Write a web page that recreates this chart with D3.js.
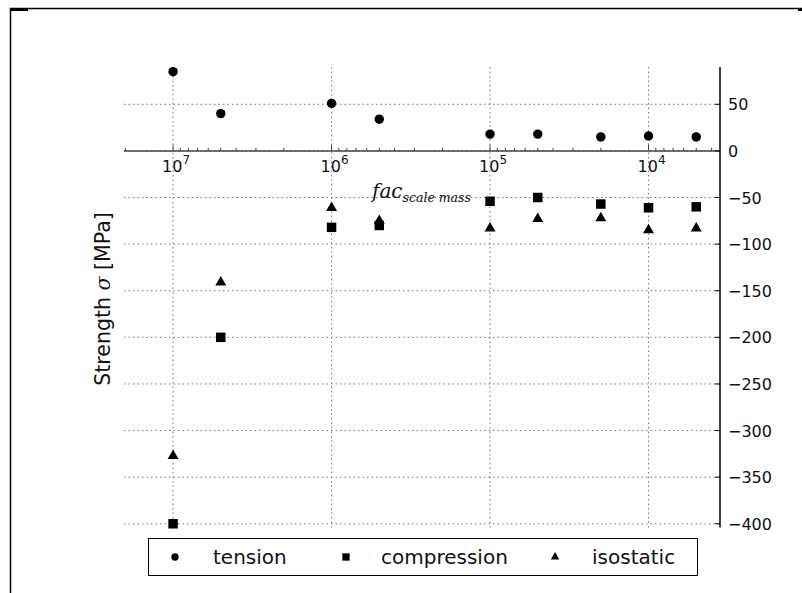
<!DOCTYPE html>
<html>
<head>
<meta charset="utf-8">
<style>
body { margin: 0; background: #fff; }
svg { font-family: "DejaVu Sans", sans-serif; }
.grid line { stroke: #777; stroke-width: 1; stroke-dasharray: 1.5,3; }
</style>
<script src="https://d3js.org/d3.v7.min.js"></script>
</head>
<body>
<svg width="802" height="593"></svg>
<script>
// scale mass factors and measured strengths [MPa]
var factors     = [1e7, 5e6, 1e6, 5e5, 1e5, 5e4, 2e4, 1e4, 5e3];
var tension     = [85, 40, 51, 34, 18, 18, 15, 16, 15];
var compression = [-400, -200, -82, -80, -54, -50, -57, -61, -60];
var isostatic   = [-327, -141, -61, -75, -83, -73, -72, -85, -83];

var xMajor = [1e7, 1e6, 1e5, 1e4];
var yTicks = [50, 0, -50, -100, -150, -200, -250, -300, -350, -400];
var seriesNames = ["tension", "compression", "isostatic"];

var svg = d3.select("svg");

// plot box (note: "top" is reserved on window)
var pLeft = 124, pRight = 720, pTop = 67, pBottom = 527.5;

var x = d3.scaleLog().domain([2.04e7, 3540]).range([pLeft, pRight]);
var y = d3.scaleLinear().domain([90, -404]).range([pTop, pBottom]);

// outer frame (cropped figure border)
svg.append("line").attr("x1", 10).attr("x2", 802).attr("y1", 8.5).attr("y2", 8.5)
    .attr("stroke", "#000").attr("stroke-width", 1.5);
svg.append("line").attr("x1", 10.5).attr("x2", 10.5).attr("y1", 8).attr("y2", 593)
    .attr("stroke", "#000").attr("stroke-width", 1.5);
svg.append("rect").attr("x", 10).attr("y", 8).attr("width", 18).attr("height", 3).attr("fill", "#000");
svg.append("rect").attr("x", 798).attr("y", 8).attr("width", 4).attr("height", 3).attr("fill", "#000");

// grid
var grid = svg.append("g").attr("class", "grid");
grid.selectAll(".gx").data(xMajor).enter().append("line")
    .attr("x1", function(d) { return x(d); })
    .attr("x2", function(d) { return x(d); })
    .attr("y1", pTop).attr("y2", pBottom);
grid.selectAll(".gy").data(yTicks).enter().append("line")
    .attr("x1", pLeft).attr("x2", pRight)
    .attr("y1", function(d) { return y(d); })
    .attr("y2", function(d) { return y(d); });

// x axis at y = 0, ticks pointing up
var minor = [];
for (var e = 3; e <= 7; e++) {
  for (var m = 1; m <= 9; m++) {
    var v = m * Math.pow(10, e);
    if (v <= x.domain()[0] && v >= x.domain()[1]) minor.push(v);
  }
}
var xAxis = svg.append("g").attr("transform", "translate(0," + y(0) + ")");
xAxis.append("line").attr("x1", pLeft).attr("x2", pRight).attr("stroke", "#444").attr("stroke-width", 1.5);
xAxis.selectAll(".mt").data(minor).enter().append("line")
    .attr("x1", function(d) { return x(d); })
    .attr("x2", function(d) { return x(d); })
    .attr("y1", 0)
    .attr("y2", function(d) { return xMajor.indexOf(d) >= 0 ? -6 : -3; })
    .attr("stroke", "#444").attr("stroke-width", 1);
var xl = xAxis.selectAll(".xl").data(xMajor).enter().append("text")
    .attr("x", function(d) { return x(d) + 3; })
    .attr("y", 21)
    .attr("text-anchor", "middle")
    .attr("font-size", 16)
    .attr("fill", "#111");
xl.append("tspan").text("10");
xl.append("tspan").attr("dy", -8).attr("font-size", 12)
    .text(function(d) { return Math.round(Math.log10(d)); });

// right y axis
var yAxis = svg.append("g").attr("transform", "translate(" + pRight + ",0)");
yAxis.append("line").attr("y1", pTop).attr("y2", pBottom).attr("stroke", "#000").attr("stroke-width", 1.5);
yAxis.selectAll(".yt").data(yTicks).enter().append("line")
    .attr("x1", 0).attr("x2", -5)
    .attr("y1", function(d) { return y(d); })
    .attr("y2", function(d) { return y(d); })
    .attr("stroke", "#000");
yAxis.selectAll(".yl").data(yTicks).enter().append("text")
    .attr("x", 8)
    .attr("y", function(d) { return y(d) + 6; })
    .attr("font-size", 16)
    .attr("fill", "#111")
    .text(function(d) { return d < 0 ? "\u2212" + Math.abs(d) : d; });

// y label
var yLab = svg.append("text")
    .attr("transform", "translate(110,299) rotate(-90)")
    .attr("text-anchor", "middle")
    .attr("font-size", 20.5)
    .attr("fill", "#111");
yLab.append("tspan").text("Strength ");
yLab.append("tspan").attr("font-family", "DejaVu Serif").attr("font-style", "italic").text("\u03c3");
yLab.append("tspan").text(" [MPa]");

// x label (math text)
var xLab = svg.append("text")
    .attr("x", 372).attr("y", 198)
    .attr("font-family", "DejaVu Serif")
    .attr("font-style", "italic")
    .attr("fill", "#111");
xLab.append("tspan").attr("font-size", 20).text("fac");
xLab.append("tspan").attr("font-size", 12.5).attr("dy", 4).text("scale mass");

// markers
var symbols = [d3.symbolCircle, d3.symbolSquare, d3.symbolTriangle];
var sizes = [70, 90, 52];
var series = [tension, compression, isostatic];

series.forEach(function(vals, s) {
  svg.append("g").selectAll("path").data(vals).enter().append("path")
      .attr("transform", function(d, i) { return "translate(" + x(factors[i]) + "," + y(d) + ")"; })
      .attr("d", d3.symbol().type(symbols[s]).size(sizes[s]))
      .attr("fill", "#000");
});

// legend
var legend = svg.append("g");
legend.append("rect").attr("x", 148.5).attr("y", 538.5).attr("width", 549).attr("height", 37)
    .attr("fill", "#fff").attr("stroke", "#000");
var legX = [175, 346, 555];
var legTextX = [213, 381, 592];
seriesNames.forEach(function(name, s) {
  legend.append("path")
      .attr("transform", "translate(" + legX[s] + ",557)")
      .attr("d", d3.symbol().type(symbols[s]).size(sizes[s] * 0.6))
      .attr("fill", "#000");
  legend.append("text")
      .attr("x", legTextX[s]).attr("y", 564)
      .attr("font-size", 20)
      .attr("fill", "#111")
      .text(name);
});
</script>
</body>
</html>
